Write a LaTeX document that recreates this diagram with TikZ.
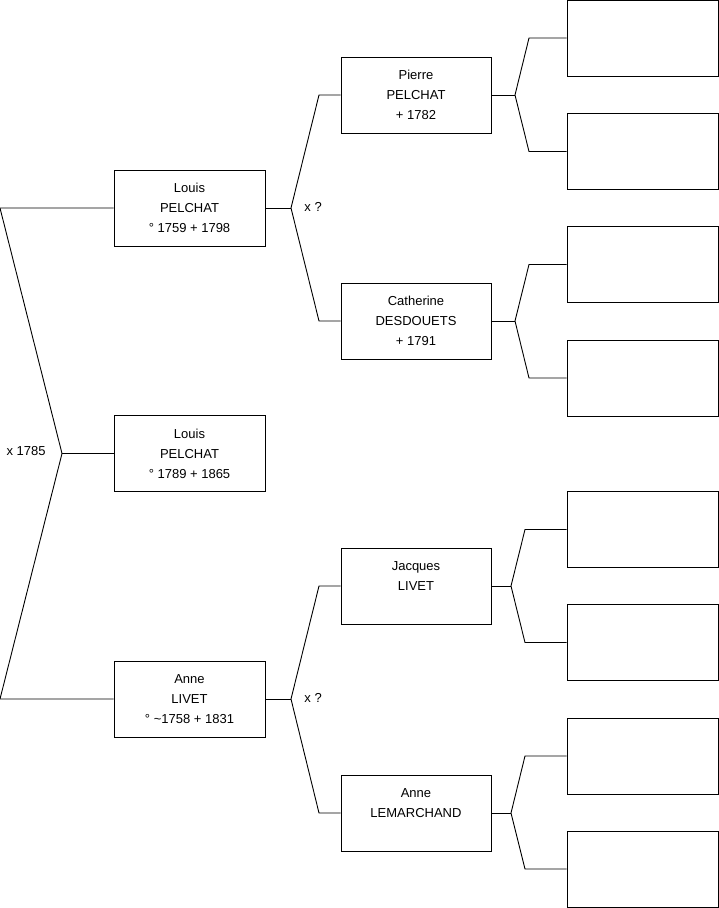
\documentclass[tikz,border=0pt]{standalone}
\usepackage{fontspec}
\setmainfont{Liberation Sans}
\usetikzlibrary{positioning, calc}

\tikzset{
  person/.style={draw, rectangle, minimum width=151pt, minimum height=76pt,
    inner sep=0pt, align=center, font=\fontsize{13}{20}\selectfont},
  blank/.style={draw, rectangle, minimum width=151pt, minimum height=76pt, inner sep=0pt},
  union/.style={font=\fontsize{13}{15}\selectfont, inner sep=3pt}
}

\begin{document}
\begin{tikzpicture}[x=1pt, y=-1pt, line width=0.9pt, line join=miter]
  \useasboundingbox (0,0) rectangle (719,908);
  % generation 1
  \node[person] (louis)  at (189.5,208) {Louis\\PELCHAT\\° 1759 + 1798};
  \node[person] (child)  at (189.5,453.5) {Louis\\PELCHAT\\° 1789 + 1865};
  \node[person] (anne)   at (189.5,699) {Anne\\LIVET\\° \textasciitilde1758 + 1831};
  % generation 2
  \node[person, minimum width=150pt] (pierre)     at (416,95)  {Pierre\\PELCHAT\\+ 1782};
  \node[person, minimum width=150pt] (catherine)  at (416,321) {Catherine\\DESDOUETS\\+ 1791};
  \node[person, minimum width=150pt] (jacques)    at (416,586) {Jacques\\LIVET\\\mbox{}};
  \node[person, minimum width=150pt] (lemarchand) at (416,813) {Anne\\LEMARCHAND\\\mbox{}};
  % generation 3 (empty)
  \foreach \n/\y in {g3a/38, g3b/151.5, g3c/264.5, g3d/378, g3e/529.5, g3f/642.5, g3g/756, g3h/869}
    \node[blank] (\n) at (642.5,\y) {};

  % couple of generation 1
  \coordinate (wed) at (62,453.5);
  \draw (louis.west) -- (louis.west -| 0,0) -- (wed) -- (anne.west -| 0,0) -- (anne.west);
  \draw (wed) -- (child.west);
  \node[union, anchor=east] (m1) at (wed) [xshift=-13pt, yshift=2pt] {x 1785};

  % parents of generation 2
  \foreach \who/\up/\dn in {louis/pierre/catherine, anne/jacques/lemarchand} {
    \draw (\who.east) -- (\who.east -| 291,0) coordinate (\who-j);
    \draw (\up.west) -- (\up.west -| 319,0) -- (\who-j) -- (\dn.west -| 319,0) -- (\dn.west);
    \node[union, anchor=west] at (\who-j) [xshift=10pt, yshift=1pt] {x ?};
  }

  % generation 3 brackets
  \foreach \who/\up/\dn/\jx/\tx in {pierre/g3a/g3b/515/529, catherine/g3c/g3d/515/529,
      jacques/g3e/g3f/511/525, lemarchand/g3g/g3h/511/525} {
    \draw (\who.east) -- (\who.east -| \jx,0) coordinate (\who-j);
    \draw (\up.west) -- (\up.west -| \tx,0) -- (\who-j) -- (\dn.west -| \tx,0) -- (\dn.west);
  }
\end{tikzpicture}
\end{document}
